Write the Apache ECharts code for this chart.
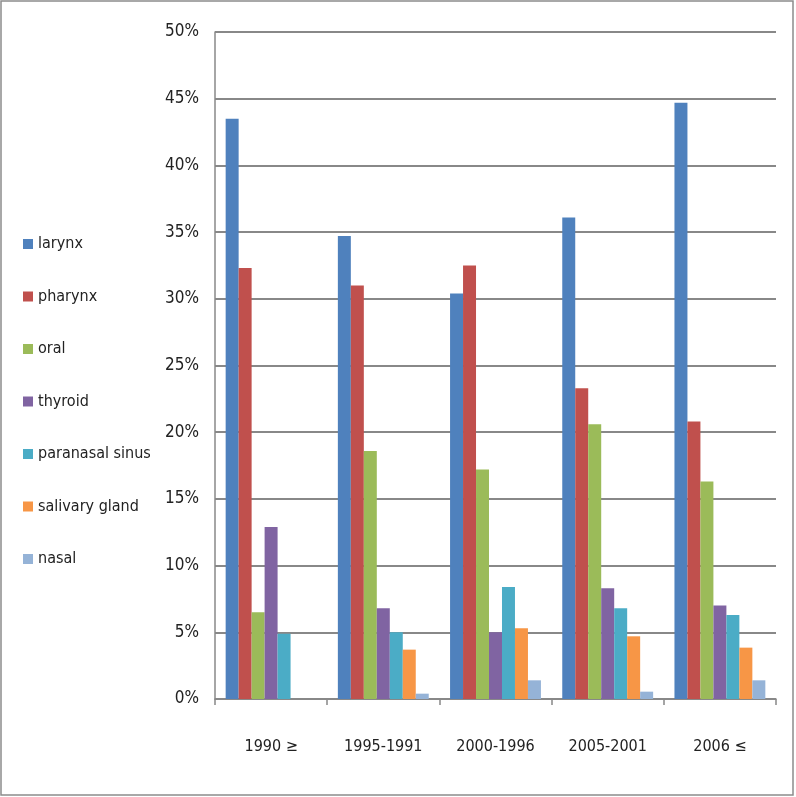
<!DOCTYPE html>
<html>
<head>
<meta charset="utf-8">
<script src="https://cdn.jsdelivr.net/npm/echarts@6/dist/echarts.min.js"></script>
<style>
html,body{margin:0;padding:0;background:#fff;}
#chart{width:796px;height:797px;}
</style>
</head>
<body>
<div id="chart"></div>
<script>
const categories = ['1990 ≥', '1995-1991', '2000-1996', '2005-2001', '2006 ≤'];
const seriesNames = ['larynx', 'pharynx', 'oral', 'thyroid', 'paranasal sinus', 'salivary gland', 'nasal'];
const larynx = [43.5, 34.7, 30.4, 36.1, 44.7];
const pharynx = [32.3, 31.0, 32.5, 23.3, 20.8];
const oral = [6.5, 18.6, 17.2, 20.6, 16.3];
const thyroid = [12.9, 6.8, 5.0, 8.3, 7.0];
const paranasal = [4.9, 5.0, 8.4, 6.8, 6.3];
const salivary = [0, 3.7, 5.3, 4.7, 3.85];
const nasal = [0, 0.4, 1.4, 0.55, 1.4];
const yTicks = [0, 5, 10, 15, 20, 25, 30, 35, 40, 45, 50];

const colors = ['#4F81BD', '#C0504D', '#9BBB59', '#8064A2', '#4BACC6', '#F79646', '#95B3D7'];
const allData = [larynx, pharynx, oral, thyroid, paranasal, salivary, nasal];
const FONT = "'DejaVu Sans Condensed', 'Liberation Sans', sans-serif";

const chart = echarts.init(document.getElementById('chart'));
chart.setOption({
  animation: false,
  color: colors,
  graphic: [{
    type: 'rect',
    shape: { x: 1, y: 1, width: 792, height: 794 },
    style: { fill: 'none', stroke: '#8c8c8c', lineWidth: 1.5 },
    silent: true
  }],
  legend: {
    orient: 'vertical',
    left: 18,
    top: 229,
    icon: 'rect',
    itemWidth: 10,
    itemHeight: 10,
    itemGap: 32.5,
    textStyle: { fontFamily: FONT, fontSize: 16, color: '#222', lineHeight: 20 },
    data: seriesNames
  },
  grid: { left: 215, right: 20, top: 32, bottom: 98 },
  xAxis: {
    type: 'category',
    data: categories,
    axisLine: { lineStyle: { color: '#888', width: 1.5 } },
    axisTick: { show: true, length: 6, lineStyle: { color: '#888', width: 1.5 } },
    axisLabel: { fontFamily: FONT, fontSize: 16, color: '#222', margin: 40, interval: 0 }
  },
  yAxis: {
    type: 'value',
    min: yTicks[0],
    max: yTicks[yTicks.length - 1],
    interval: 5,
    axisLine: { show: true, lineStyle: { color: '#888', width: 1.5 } },
    axisTick: { show: false },
    splitLine: { lineStyle: { color: '#888', width: 2 } },
    axisLabel: { fontFamily: FONT, fontSize: 17, color: '#222', margin: 16, formatter: v => v + '%' }
  },
  series: seriesNames.map((name, i) => ({
    name: name,
    type: 'bar',
    data: allData[i],
    barGap: '0%',
    barCategoryGap: '19%',
    itemStyle: { color: colors[i] }
  }))
});
</script>
</body>
</html>
